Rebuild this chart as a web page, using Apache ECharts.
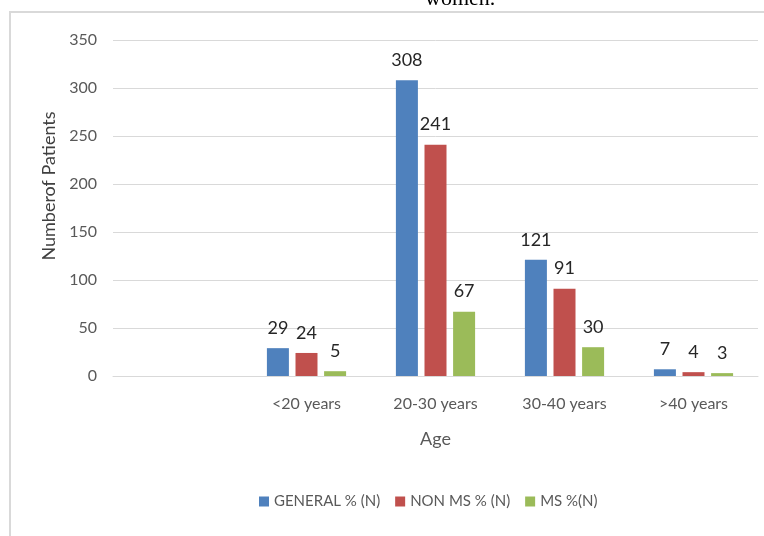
<!DOCTYPE html>
<html>
<head>
<meta charset="utf-8">
<script src="https://cdn.jsdelivr.net/npm/echarts@6/dist/echarts.min.js"></script>
<style>
  html, body { margin: 0; padding: 0; background: #ffffff; }
  #chart { width: 764px; height: 536px; }
</style>
</head>
<body>
<div id="chart"></div>
<script>
// Age groups (the leading empty slot is an unused category)
const categories = ['', '<20 years', '20-30 years', '30-40 years', '>40 years'];
const generalN = [null, 29, 308, 121, 7];
const nonMsN   = [null, 24, 241, 91, 4];
const msN      = [null, 5, 67, 30, 3];
const seriesNames = ['GENERAL % (N)', 'NON MS % (N)', 'MS %(N)'];
const seriesColors = ['#4F81BD', '#C0504D', '#9BBB59'];

const font = 'Lato, "Open Sans", sans-serif';

const chart = echarts.init(document.getElementById('chart'), null, { renderer: 'canvas' });

function barSeries(name, data, color) {
  return {
    name: name,
    type: 'bar',
    data: data,
    barWidth: 22,
    barGap: '30%',
    itemStyle: { color: color },
    label: {
      show: true,
      position: 'top',
      distance: 11,
      fontFamily: font,
      fontSize: 18,
      color: '#262626'
    }
  };
}

chart.setOption({
  backgroundColor: '#ffffff',
  animation: false,
  graphic: [
    {
      type: 'rect',
      z: -1,
      shape: { x: 10, y: 12, width: 800, height: 600 },
      style: { fill: 'none', stroke: '#D9D9D9', lineWidth: 2 }
    },
    {
      type: 'text',
      left: 425,
      top: -12,
      style: {
        text: 'women.',
        font: '22px "Liberation Serif", "DejaVu Serif", serif',
        fill: '#000000'
      }
    }
  ],
  grid: { left: 113, right: 6, top: 40, bottom: 160 },
  legend: {
    data: seriesNames,
    left: 259,
    top: 494,
    padding: 0,
    icon: 'rect',
    itemWidth: 10,
    itemHeight: 10,
    itemGap: 15,
    textStyle: { fontFamily: font, fontSize: 15, color: '#595959' }
  },
  xAxis: {
    type: 'category',
    data: categories,
    name: 'Age',
    nameLocation: 'middle',
    nameGap: 54,
    nameTextStyle: { fontFamily: font, fontSize: 18, color: '#595959' },
    axisLine: { lineStyle: { color: '#D9D9D9', width: 1 } },
    axisTick: { show: false },
    axisLabel: { margin: 20, fontFamily: font, fontSize: 16, color: '#595959', interval: 0 }
  },
  yAxis: {
    type: 'value',
    min: 0,
    max: 350,
    interval: 50,
    name: 'Numberof Patients',
    nameLocation: 'middle',
    nameGap: 55,
    nameTextStyle: { fontFamily: font, fontSize: 18, color: '#404040', padding: [0, 0, 0, 44] },
    axisLine: { show: false },
    axisTick: { show: false },
    axisLabel: { margin: 16, fontFamily: font, fontSize: 16, color: '#595959' },
    splitLine: { lineStyle: { color: '#D9D9D9', width: 1 } }
  },
  series: [
    barSeries(seriesNames[0], generalN, seriesColors[0]),
    barSeries(seriesNames[1], nonMsN, seriesColors[1]),
    barSeries(seriesNames[2], msN, seriesColors[2])
  ]
});
</script>
</body>
</html>
